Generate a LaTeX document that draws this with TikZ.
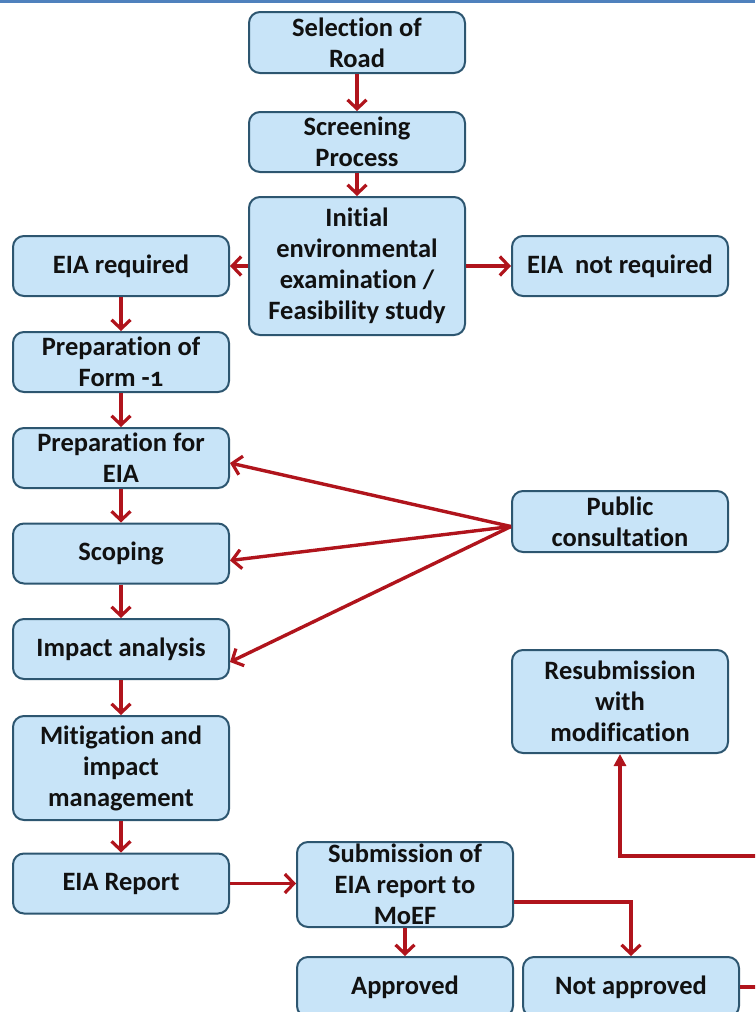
\documentclass[tikz,border=0pt]{standalone}
\usepackage{fontspec}
\setmainfont{Carlito}[Ligatures=NoCommon,Numbers=OldStyle]
\usetikzlibrary{arrows.meta,calc}
\definecolor{boxfill}{HTML}{C8E4F8}
\definecolor{boxline}{HTML}{2D5670}
\definecolor{arrowred}{HTML}{B0141C}
\definecolor{topband}{HTML}{4F81BD}
\definecolor{txt}{HTML}{111111}
\tikzset{
  box/.style={draw=boxline, fill=boxfill, line width=2pt, rounded corners=11pt,
    minimum width=216pt, minimum height=60pt, inner sep=0pt, align=center,
    text=txt, font=\bfseries\fontsize{26.5}{31}\selectfont},
  flow/.style={draw=arrowred, line width=3.4pt, -{Straight Barb[length=9pt,width=19pt,line width=3.2pt]}},
  flowtri/.style={draw=arrowred, line width=3.4pt, -{Triangle[length=12pt,width=12pt]}}
}
\begin{document}
\begin{tikzpicture}[x=1pt,y=-1pt]
\useasboundingbox (0,0) rectangle (755,1012);
\clip (0,0) rectangle (755,1012);
\fill[topband] (0,0) rectangle (755,3);

\node[box, minimum height=61pt] (sel) at (357,42.5) {Selection of\\Road};
\node[box] (scr) at (357,142) {Screening\\Process};
\node[box, minimum height=138pt] (ini) at (357,266) {Initial\\environmental\\examination /\\Feasibility study};
\node[box] (req) at (121,266) {EIA required};
\node[box] (notreq) at (620,266) {EIA\ \ not required};
\node[box] (form) at (121,362) {Preparation of\\Form -1};
\node[box] (prep) at (121,458) {Preparation for\\EIA};
\node[box] (scop) at (121,553.5) {Scoping};
\node[box] (imp) at (121,649) {Impact analysis};
\node[box, minimum height=104pt] (mit) at (121,768) {Mitigation and\\impact\\management};
\node[box] (rep) at (121,883.5) {EIA Report};
\node[box, minimum height=85pt] (sub) at (405,884.5) {Submission of\\EIA report to\\MoEF};
\node[box, minimum height=61pt] (pub) at (620,521.5) {Public\\consultation};
\node[box, minimum height=103pt] (resub) at (620,701.5) {Resubmission\\with\\modification};
\node[box] (appr) at (405,987) {Approved};
\node[box] (notappr) at (631,987) {Not approved};

\draw[flow] (sel) -- (scr);
\draw[flow] (scr) -- (ini);
\draw[flow] (ini.west) -- (req.east);
\draw[flow] (ini.east) -- (notreq.west);
\draw[flow] (req) -- (form);
\draw[flow] (form) -- (prep);
\draw[flow] (prep) -- (scop);
\draw[flow] (scop) -- (imp);
\draw[flow] (imp) -- (mit);
\draw[flow] (mit) -- (rep);
\draw[flow] (rep.east) -- (rep.east -| sub.west);

\coordinate (pubc) at ($(pub.west)+(0,5)$);
\draw[flow] (pubc) -- ($(prep.east)+(0,5)$);
\draw[flow] (pubc) -- ($(scop.east)+(0,7)$);
\draw[flow] (pubc) -- ($(imp.east)+(0,13)$);

\draw[flow] (sub.south -| appr.north) -- (appr.north);
\draw[flow] ($(sub.east)+(0,17.5)$) -| (notappr.north);

\coordinate (c1) at (762,987);
\coordinate (c2) at (762,856);
\draw[flowtri] (notappr.east) -- (c1) -- (c2) -| (resub.south);
\end{tikzpicture}
\end{document}
